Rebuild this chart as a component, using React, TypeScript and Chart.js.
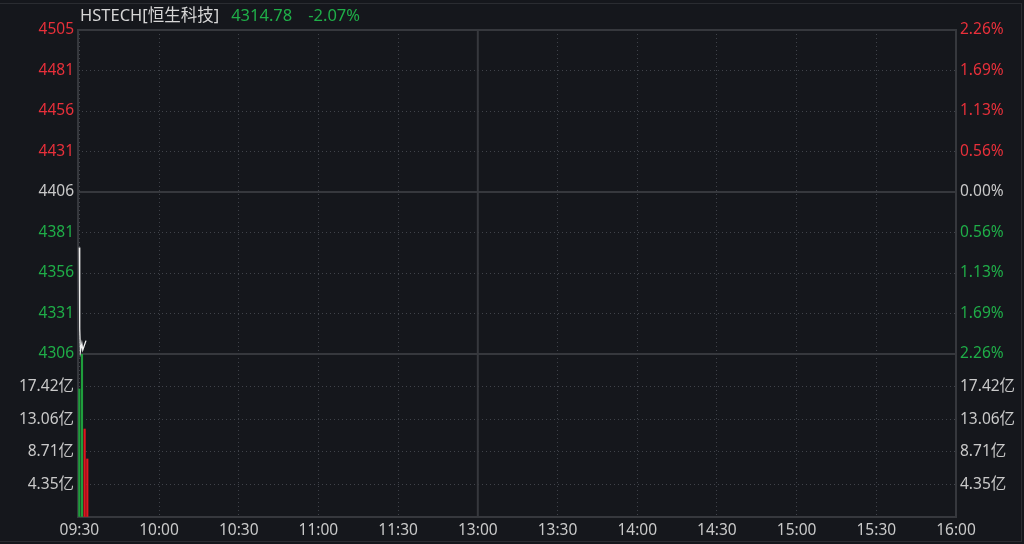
import { useEffect, useRef } from "react";
import Chart from "chart.js/auto";

// quote header
const indexName = "HSTECH[恒生科技]";
const lastPrice = "4314.78";
const lastChange = "-2.07%";

// axis ticks
const prevClose = 4405.98;
const rangePct = 0.02256;
const timeLabels = ["09:30", "10:00", "10:30", "11:00", "11:30", "13:00", "13:30", "14:00", "14:30", "15:00", "15:30", "16:00"];
const priceTickLabels = ["4505", "4481", "4456", "4431", "4406", "4381", "4356", "4331", "4306"];
const pctTickLabels = ["2.26%", "1.69%", "1.13%", "0.56%", "0.00%", "0.56%", "1.13%", "1.69%", "2.26%"];
const volTickLabels = ["17.42亿", "13.06亿", "8.71亿", "4.35亿"];
const volMax = 21.77;

// minutes since 09:30 (trading minutes, lunch removed)
const priceMinutes = [0, 0.15, 0.4, 0.95, 1.3, 2.5];
const priceValues = [4372, 4322, 4308, 4313, 4309, 4314.78];
const volMinutes = [0, 1, 2, 3];
const volValues = [17.1, 21.77, 11.75, 7.75];
const volUp = [false, false, true, true];

const RED = "#e8303a";
const GREEN = "#1fae48";
const GRAY = "#c9c9c9";
const LINE = "#36383d";
const GRID = "#40434a";
const BG = "#15171c";
const FONT = '"Noto Sans", "Noto Sans CJK SC", sans-serif';

export default function App() {
  const canvasRef = useRef<HTMLCanvasElement>(null);

  useEffect(() => {
    if (!canvasRef.current) return;
    const pMax = prevClose * (1 + rangePct);
    const pMin = prevClose * (1 - rangePct);
    const priceTicks = priceTickLabels.map((_, i) => pMin + (i * (pMax - pMin)) / (priceTickLabels.length - 1));
    const volTicks = [0, 1, 2, 3, 4, 5].map((i) => (i * volMax) / 5);
    const timeTicks = timeLabels.map((_, i) => i * 30);
    const n = priceTickLabels.length;

    const priceColor = (ctx: any) => (ctx.index > 4 ? RED : ctx.index === 4 ? GRAY : GREEN);
    const setTicks = (vals: number[]) => (scale: any) => {
      scale.ticks = vals.map((v) => ({ value: v }));
    };
    const font = { family: FONT, size: 15.5 };
    const leftW = (s: any) => { s.width = 78; };
    const rightW = (s: any) => { s.width = 68; };
    const grid = { color: GRID, lineWidth: 1, drawTicks: false, offset: false };
    const dotted = { display: false, dash: [1, 3] };

    const framePlugin = {
      id: "frame",
      beforeDatasetsDraw(chart: any) {
        const { ctx, chartArea, scales } = chart;
        ctx.save();
        ctx.strokeStyle = LINE;
        ctx.lineWidth = 2;
        ctx.beginPath();
        ctx.rect(chartArea.left, chartArea.top, chartArea.right - chartArea.left, chartArea.bottom - chartArea.top);
        const sep = scales.v.top;
        ctx.moveTo(chartArea.left, sep);
        ctx.lineTo(chartArea.right, sep);
        const mid = scales.y.getPixelForValue(prevClose);
        ctx.moveTo(chartArea.left, mid);
        ctx.lineTo(chartArea.right, mid);
        const noon = scales.x.getPixelForValue(150);
        ctx.moveTo(noon, chartArea.top);
        ctx.lineTo(noon, chartArea.bottom);
        ctx.stroke();
        ctx.restore();
      },
    };

    const chart = new Chart(canvasRef.current, {
      type: "bar",
      data: {
        datasets: [
          {
            type: "line",
            data: priceMinutes.map((m, i) => ({ x: m, y: priceValues[i] })),
            xAxisID: "x",
            yAxisID: "y",
            borderColor: "#f0f0f0",
            borderWidth: 1.3,
            pointRadius: 0,
            tension: 0,
            clip: false,
          },
          {
            type: "bar",
            data: volMinutes.map((m, i) => ({ x: m, y: volValues[i] })),
            xAxisID: "x",
            yAxisID: "v",
            backgroundColor: volUp.map((u) => (u ? "#e0141e" : "#1f9e3c")),
            barThickness: 1.5,
          },
        ] as any,
      },
      options: {
        responsive: false,
        animation: false,
        layout: { padding: { top: 30, left: 0, right: 0, bottom: 0 } },
        plugins: { legend: { display: false }, tooltip: { enabled: false } },
        scales: {
          x: {
            type: "linear",
            offset: false,
            min: -0.5,
            max: 330,
            afterBuildTicks: setTicks(timeTicks),
            afterFit: (s: any) => { s.height = 27; },
            ticks: {
              autoSkip: false,
              maxRotation: 0,
              padding: 4,
              color: GRAY,
              font,
              callback: (_v: any, i: number) => timeLabels[i],
            },
            grid,
            border: dotted,
          },
          // left boxes stack in reverse order: volume first puts it below price
          v: {
            type: "linear",
            position: "left",
            stack: "left",
            stackWeight: 163,
            min: 0,
            max: volMax,
            afterBuildTicks: setTicks(volTicks),
            afterFit: leftW,
            ticks: {
              autoSkip: false,
              padding: 4,
              color: GRAY,
              font,
              callback: (_v: any, i: number) => (i >= 1 && i <= 4 ? volTickLabels[4 - i] : ""),
            },
            grid,
            border: dotted,
          },
          y: {
            type: "linear",
            position: "left",
            stack: "left",
            stackWeight: 324,
            min: pMin,
            max: pMax,
            afterBuildTicks: setTicks(priceTicks),
            afterFit: leftW,
            ticks: {
              autoSkip: false,
              padding: 4,
              color: priceColor,
              font,
              callback: (_v: any, i: number) => priceTickLabels[n - 1 - i],
            },
            grid,
            border: dotted,
          },
          yR: {
            type: "linear",
            position: "right",
            stack: "right",
            stackWeight: 324,
            min: pMin,
            max: pMax,
            afterBuildTicks: setTicks(priceTicks),
            afterFit: rightW,
            ticks: {
              autoSkip: false,
              padding: 4,
              color: priceColor,
              font,
              callback: (_v: any, i: number) => pctTickLabels[n - 1 - i],
            },
            grid: { display: false, drawTicks: false },
            border: { display: false },
          },
          vR: {
            type: "linear",
            position: "right",
            stack: "right",
            stackWeight: 163,
            min: 0,
            max: volMax,
            afterBuildTicks: setTicks(volTicks),
            afterFit: rightW,
            ticks: {
              autoSkip: false,
              padding: 4,
              color: GRAY,
              font,
              callback: (_v: any, i: number) => (i >= 1 && i <= 4 ? volTickLabels[4 - i] : ""),
            },
            grid: { display: false, drawTicks: false },
            border: { display: false },
          },
        },
      } as any,
      plugins: [framePlugin],
    });

    return () => chart.destroy();
  }, []);

  return (
    <div style={{ position: "absolute", left: 0, top: 0, width: 1024, height: 544, background: BG, overflow: "hidden" }}>
      <div
        style={{
          position: "absolute",
          left: -2,
          top: 3,
          right: 2,
          bottom: 2,
          border: "1px solid #2a2c31",
        }}
      />
      <canvas ref={canvasRef} width={1024} height={544} style={{ position: "absolute", left: 0, top: 0 }} />
      <div
        style={{
          position: "absolute",
          left: 80,
          top: 5,
          fontFamily: FONT,
          fontSize: 16.5,
          lineHeight: "20px",
          whiteSpace: "nowrap",
        }}
      >
        <span style={{ color: "#d6d6d6" }}>{indexName}</span>
        <span style={{ color: GREEN, marginLeft: 12 }}>{lastPrice}</span>
        <span style={{ color: GREEN, marginLeft: 16 }}>{lastChange}</span>
      </div>
    </div>
  );
}
